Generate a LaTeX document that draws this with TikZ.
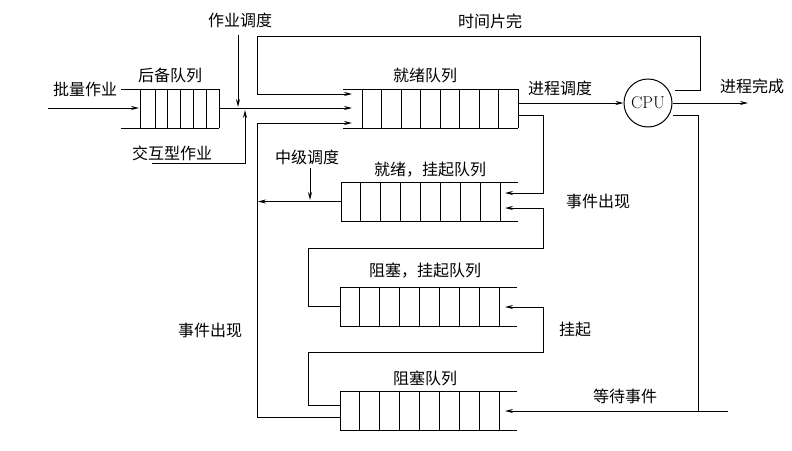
\documentclass[tikz,border=0pt]{standalone}
\usepackage{fontspec}
\newfontfamily\cjk{Noto Sans CJK SC}
\usetikzlibrary{positioning,arrows.meta}
\tikzset{
  flow/.style={draw, line width=1pt, -{Stealth[length=8pt,width=4pt]}},
  wire/.style={draw, line width=1pt},
  lbl/.style={font=\cjk\fontsize{16}{16}\selectfont, inner sep=0pt},
}
% queue: #1 left x, #2 top y, #3 name of its middle point
\newcommand{\queueL}[3]{% open on the left, closed right
  \draw[line width=1pt] (#1,#2) -- (#1+175,#2) (#1,#2+39) -- (#1+175,#2+39);
  \foreach \k in {0,...,8} \draw[line width=1pt] (#1+19+\k*19.5,#2) -- (#1+19+\k*19.5,#2+39);
  \coordinate (#3) at (#1,#2+19.5);}
\newcommand{\queueR}[3]{% closed on the left, open right
  \draw[line width=1pt] (#1,#2) -- (#1+177,#2) (#1,#2+39) -- (#1+177,#2+39);
  \foreach \k in {0,...,8} \draw[line width=1pt] (#1+\k*19.9,#2) -- (#1+\k*19.9,#2+39);
  \coordinate (#3) at (#1,#2+19.5);}
\begin{document}
\begin{tikzpicture}[x=1pt,y=-1pt]
  \useasboundingbox (0,0) rectangle (792,450);
  % backup queue
  \draw[line width=1pt] (121,89) -- (219,89) (121,128) -- (219,128);
  \foreach \x in {140,155,167,180,193,206,219} \draw[line width=1pt] (\x,89) -- (\x,128);
  \queueL{343}{89}{ready}
  \queueR{341}{182}{rsusp}
  \queueR{340}{287}{bsusp}
  \queueR{340}{391}{block}
  \node[draw, circle, line width=1pt, minimum size=48pt, inner sep=0pt, font=\fontsize{17}{17}\selectfont] (cpu) at (648,103) {CPU};
  % labels
  \node[lbl] (batch) at (85,89) {批量作业};
  \node[lbl] (backq) at (170,75) {后备队列};
  \node[lbl] (jobs) at (240,20) {作业调度};
  \node[lbl] (inter) at (172,153) {交互型作业};
  \node[lbl] (slice) at (490,21) {时间片完};
  \node[lbl] (readyq) at (425,75) {就绪队列};
  \node[lbl] (procs) at (560,88) {进程调度};
  \node[lbl] (done) at (752,86) {进程完成};
  \node[lbl] (mids) at (307,157) {中级调度};
  \node[lbl] (rsq) at (430,170) {就绪，挂起队列};
  \node[lbl] (evr) at (598,201) {事件出现};
  \node[lbl] (bsq) at (425,271) {阻塞，挂起队列};
  \node[lbl] (susp) at (575,329) {挂起};
  \node[lbl] (blq) at (425,378) {阻塞队列};
  \node[lbl] (wait) at (625,396) {等待事件};
  \node[lbl] (evl) at (210,330) {事件出现};
  % connectors
  \coordinate (bin) at (48,108);
  \draw[flow] (bin) -- (139,108);
  \draw[flow] (219,108) -- (352,108);
  \draw[flow] (238,35) -- (238,107);
  \draw[flow] (152,163) -| (245,110);
  \draw[flow] (675,90) -- (700,90) -- (700,36) -- (257,36) -- (257,94) -- (352,94);
  \draw[flow] (257,418) -- (257,123) -- (352,123);
  \draw[wire] (block) ++(0,7) -- (257,417.5);
  \draw[flow] (518,103) -- (cpu.west);
  \draw[flow] (cpu.east) -- (748,103);
  \draw[flow] (673,115) -- (698,115) -- (698,411) -- (505,411);
  \draw[wire] (698,411) -- (728,411);
  \draw[flow] (518,115) -- (543,115) -- (543,193) -- (505,193);
  \draw[flow] (308,307) -- (308,248) -- (543,248) -- (543,208) -- (505,208);
  \draw[wire] (bsusp) -- (308,306.5);
  \draw[flow] (340,405) -- (308,405) -- (308,352) -- (543,352) -- (543,307) -- (505,307);
  \draw[flow] (rsusp) -- (258,201.5);
  \draw[flow] (310,168) -- (310,200);
\end{tikzpicture}
\end{document}
